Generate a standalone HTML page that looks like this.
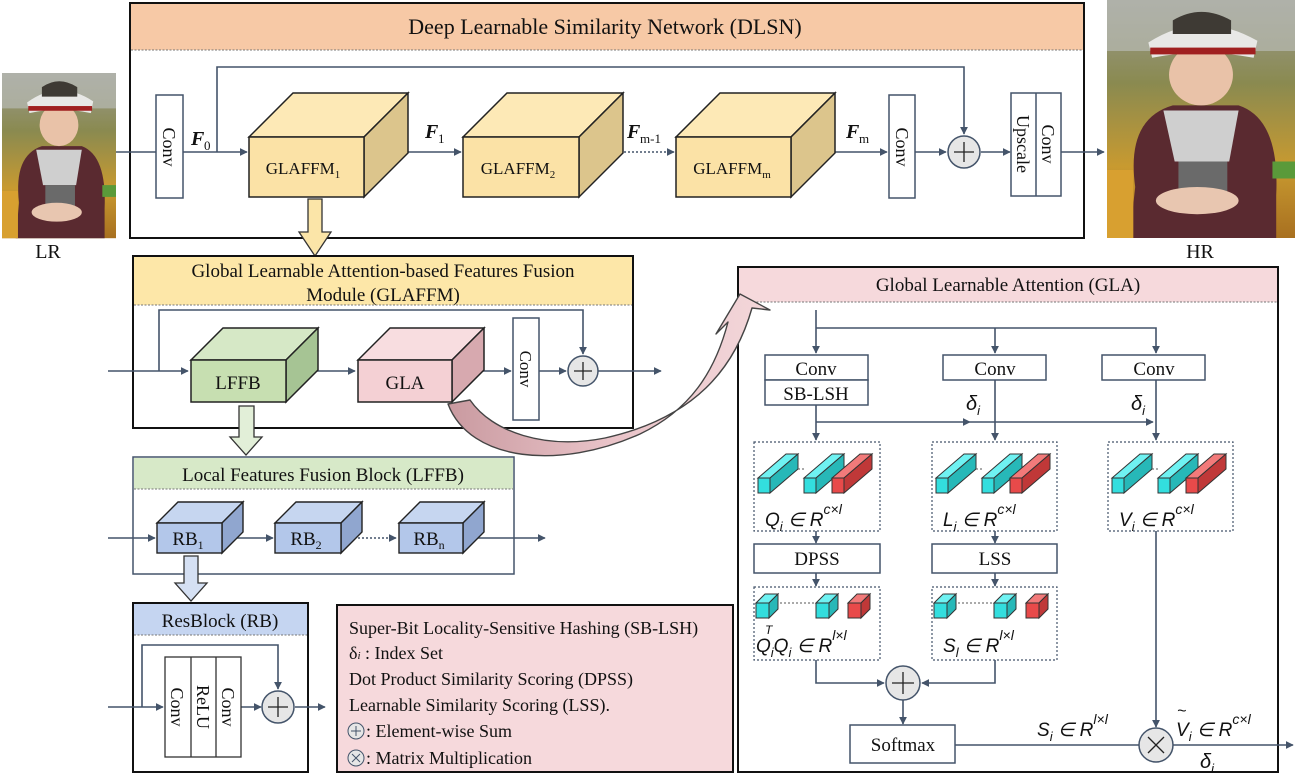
<!DOCTYPE html>
<html><head><meta charset="utf-8"><style>
html,body{margin:0;padding:0;background:#fff;}
svg{display:block;}
.t{font-family:"Liberation Serif",serif;fill:#111;}
.m{font-family:"Liberation Sans",sans-serif;font-style:italic;fill:#111;}
</style></head><body>
<svg width="1295" height="777" viewBox="0 0 1295 777" xmlns="http://www.w3.org/2000/svg">
<defs>
<marker id="a" viewBox="0 0 10 10" refX="9" refY="5" markerWidth="8" markerHeight="8" orient="auto" markerUnits="userSpaceOnUse"><path d="M0,0L10,5L0,10z" fill="#44546a"/></marker>
<linearGradient id="bg" x1="0" y1="0" x2="0" y2="1"><stop offset="0" stop-color="#9a9a92"/><stop offset="0.35" stop-color="#8a8a50"/><stop offset="0.7" stop-color="#c89a30"/><stop offset="1" stop-color="#a87020"/></linearGradient>
<linearGradient id="pk" x1="0" y1="0" x2="1" y2="0"><stop offset="0" stop-color="#c99aa0"/><stop offset="0.5" stop-color="#e9c3c8"/><stop offset="1" stop-color="#f3d7da"/></linearGradient>
<g id="pic">
<rect x="0" y="0" width="100" height="140" fill="url(#bg)"/>
<rect x="0" y="0" width="100" height="30" fill="#b8bab4" opacity="0.7"/>
<path d="M15,110 Q10,70 35,62 L70,62 Q92,70 90,115 L90,140 L12,140z" fill="#5a2a30"/>
<path d="M30,65 L70,65 L65,95 L36,95z" fill="#cfcfcf"/>
<rect x="38" y="95" width="26" height="22" fill="#6a6a6a"/>
<ellipse cx="50" cy="44" rx="17" ry="18" fill="#e9c2a8"/>
<path d="M22,25 Q50,5 80,24 L78,34 Q50,28 24,34z" fill="#e8e8e6"/>
<path d="M35,12 Q50,2 66,12 L66,20 L35,20z" fill="#3e3a34"/>
<rect x="23" y="28" width="56" height="4" fill="#a02020"/>
<ellipse cx="48" cy="118" rx="22" ry="8" fill="#e8c6b0"/>
<rect x="0" y="100" width="14" height="40" fill="#d8a030"/>
<rect x="88" y="95" width="12" height="10" fill="#5a9a3a"/>
</g>
<g id="cy"><rect x="0" y="0" width="12" height="15" fill="#33dede" stroke="#333" stroke-width="1"/><path d="M0,0L28,-24L40,-24L12,0z" fill="#6ff2f2" stroke="#333" stroke-width="1"/><path d="M12,0L40,-24L40,-9L12,15z" fill="#27b8b8" stroke="#333" stroke-width="1"/></g>
<g id="rd"><rect x="0" y="0" width="12" height="15" fill="#e84a4a" stroke="#333" stroke-width="1"/><path d="M0,0L28,-24L40,-24L12,0z" fill="#f27a7a" stroke="#333" stroke-width="1"/><path d="M12,0L40,-24L40,-9L12,15z" fill="#c03838" stroke="#333" stroke-width="1"/></g>
<g id="bars"><use href="#cy" x="0" y="0"/><line x1="40" y1="-9" x2="48" y2="-9" stroke="#555" stroke-dasharray="2,2"/><use href="#cy" x="46" y="0"/><use href="#rd" x="74" y="0"/></g>
<g id="scy"><rect x="0" y="0" width="13" height="15" fill="#33dede" stroke="#333"/><path d="M0,0L9,-9L22,-9L13,0z" fill="#6ff2f2" stroke="#333"/><path d="M13,0L22,-9L22,6L13,15z" fill="#27b8b8" stroke="#333"/></g>
<g id="srd"><rect x="0" y="0" width="13" height="15" fill="#e84a4a" stroke="#333"/><path d="M0,0L9,-9L22,-9L13,0z" fill="#f27a7a" stroke="#333"/><path d="M13,0L22,-9L22,6L13,15z" fill="#c03838" stroke="#333"/></g>
<g id="sbars"><use href="#scy" x="0" y="0"/><line x1="24" y1="0" x2="58" y2="0" stroke="#555" stroke-dasharray="2,2"/><use href="#scy" x="60" y="0"/><use href="#srd" x="92" y="0"/></g>
</defs>

<use href="#pic" transform="translate(2,73) scale(1.14,1.18)"/>
<use href="#pic" transform="translate(1107,0) scale(1.88,1.7)"/>
<text class="t" x="48" y="258" font-size="20" text-anchor="middle">LR</text>
<text class="t" x="1200" y="258" font-size="20" text-anchor="middle">HR</text>

<rect x="130" y="3" width="954" height="235" fill="#fff" stroke="#111" stroke-width="2"/>
<rect x="131" y="4" width="952" height="46" fill="#f7c9a6"/>
<line x1="131" y1="50" x2="1083" y2="50" stroke="#777" stroke-dasharray="2,1.5"/>
<text class="t" x="605" y="34" font-size="22" text-anchor="middle">Deep Learnable Similarity Network (DLSN)</text>
<g stroke="#44546a" stroke-width="1.6" fill="none">
<line x1="116" y1="152" x2="156" y2="152"/>
<line x1="183" y1="152" x2="247" y2="152" marker-end="url(#a)"/>
<polyline points="217,152 217,67 964,67 964,134" marker-end="url(#a)"/>
<line x1="364" y1="152" x2="461" y2="152" marker-end="url(#a)"/>
<line x1="579" y1="152" x2="620" y2="152"/>
<line x1="620" y1="152" x2="674" y2="152" stroke-dasharray="2,2" marker-end="url(#a)"/>
<line x1="791" y1="152" x2="887" y2="152" marker-end="url(#a)"/>
<line x1="914" y1="152" x2="946" y2="152" marker-end="url(#a)"/>
<line x1="981" y1="152" x2="1010" y2="152" marker-end="url(#a)"/>
<line x1="1061" y1="152" x2="1104" y2="152" marker-end="url(#a)"/>
</g>
<rect x="156" y="95" width="27" height="103" fill="#fff" stroke="#44546a" stroke-width="1.5"/>
<text class="t" transform="translate(163,147) rotate(90)" font-size="18" text-anchor="middle">Conv</text>
<text class="t" x="191" y="145" font-size="20" font-weight="bold" font-style="italic">F</text><text class="t" x="204" y="150" font-size="13">0</text>
<text class="t" x="425" y="138" font-size="20" font-weight="bold" font-style="italic">F</text><text class="t" x="438" y="143" font-size="13">1</text>
<text class="t" x="627" y="138" font-size="20" font-weight="bold" font-style="italic">F</text><text class="t" x="640" y="143" font-size="13">m-1</text>
<text class="t" x="846" y="138" font-size="20" font-weight="bold" font-style="italic">F</text><text class="t" x="859" y="143" font-size="13">m</text>
<g stroke="#222" stroke-width="1.5">
<path d="M249,137L293,93L408,93L364,137z" fill="#fde9b6"/><path d="M364,137L408,93L408,153L364,197z" fill="#dcc58c"/><rect x="249" y="137" width="115" height="60" fill="#fbe2a6"/>
<path d="M463,137L507,93L623,93L579,137z" fill="#fde9b6"/><path d="M579,137L623,93L623,153L579,197z" fill="#dcc58c"/><rect x="463" y="137" width="116" height="60" fill="#fbe2a6"/>
<path d="M676,137L720,93L835,93L791,137z" fill="#fde9b6"/><path d="M791,137L835,93L835,153L791,197z" fill="#dcc58c"/><rect x="676" y="137" width="115" height="60" fill="#fbe2a6"/>
</g>
<text class="t" x="303" y="174" font-size="17" text-anchor="middle">GLAFFM<tspan font-size="11" dy="4">1</tspan></text>
<text class="t" x="518" y="174" font-size="17" text-anchor="middle">GLAFFM<tspan font-size="11" dy="4">2</tspan></text>
<text class="t" x="732" y="174" font-size="17" text-anchor="middle">GLAFFM<tspan font-size="11" dy="4">m</tspan></text>
<rect x="889" y="95" width="26" height="103" fill="#fff" stroke="#44546a" stroke-width="1.5"/>
<text class="t" transform="translate(896,147) rotate(90)" font-size="18" text-anchor="middle">Conv</text>
<circle cx="964" cy="152" r="16" fill="#e6e6e6" stroke="#44546a" stroke-width="1.5"/>
<path d="M954,152H974M964,142V162" stroke="#222" stroke-width="1.3"/>
<rect x="1011" y="93" width="50" height="103" fill="#fff" stroke="#44546a" stroke-width="1.5"/>
<line x1="1036" y1="93" x2="1036" y2="196" stroke="#44546a" stroke-width="1.5"/>
<text class="t" transform="translate(1017,144) rotate(90)" font-size="18" text-anchor="middle">Upscale</text>
<text class="t" transform="translate(1042,144) rotate(90)" font-size="18" text-anchor="middle">Conv</text>

<path d="M308,199H322V232H331L315,256L299,232H308z" fill="#fbe5a8" stroke="#333" stroke-width="1.3"/>

<rect x="133" y="256" width="500" height="172" fill="#fff" stroke="#111" stroke-width="2"/>
<rect x="134" y="257" width="498" height="48" fill="#fde7a8"/>
<line x1="134" y1="305" x2="632" y2="305" stroke="#777" stroke-dasharray="2,1.5"/>
<text class="t" x="383" y="277" font-size="19" text-anchor="middle">Global Learnable Attention-based Features Fusion</text>
<text class="t" x="383" y="301" font-size="19" text-anchor="middle">Module (GLAFFM)</text>
<g stroke="#44546a" stroke-width="1.6" fill="none">
<line x1="108" y1="371" x2="188" y2="371" marker-end="url(#a)"/>
<polyline points="159,371 159,310 583,310 583,354" marker-end="url(#a)"/>
<line x1="290" y1="371" x2="355" y2="371" marker-end="url(#a)"/>
<line x1="455" y1="371" x2="511" y2="371" marker-end="url(#a)"/>
<line x1="539" y1="371" x2="566" y2="371" marker-end="url(#a)"/>
<line x1="598" y1="371" x2="661" y2="371" marker-end="url(#a)"/>
</g>
<g stroke="#222" stroke-width="1.5">
<path d="M191,360L223,328L318,328L286,360z" fill="#d6e8c6"/><path d="M286,360L318,328L318,370L286,402z" fill="#a6c494"/><rect x="191" y="360" width="95" height="42" fill="#c7dfb1"/>
<path d="M358,360L390,328L484,328L452,360z" fill="#f8dde0"/><path d="M452,360L484,328L484,370L452,402z" fill="#d7a9af"/><rect x="358" y="360" width="94" height="42" fill="#f4d0d4"/>
</g>
<text class="t" x="238" y="389" font-size="19" text-anchor="middle">LFFB</text>
<text class="t" x="405" y="389" font-size="19" text-anchor="middle">GLA</text>
<rect x="513" y="318" width="26" height="102" fill="#fff" stroke="#44546a" stroke-width="1.5"/>
<text class="t" transform="translate(520,369) rotate(90)" font-size="17" text-anchor="middle">Conv</text>
<circle cx="583" cy="371" r="15" fill="#e6e6e6" stroke="#44546a" stroke-width="1.5"/>
<path d="M574,371H592M583,362V380" stroke="#222" stroke-width="1.3"/>

<path d="M239,406H254V437H262L246,455L230,437H239z" fill="#e2efd8" stroke="#333" stroke-width="1.3"/>

<rect x="133" y="457" width="381" height="117" fill="#fff" stroke="#44546a" stroke-width="1.5"/>
<rect x="134" y="458" width="379" height="31" fill="#d7e9c8"/>
<line x1="134" y1="489" x2="513" y2="489" stroke="#777" stroke-dasharray="2,1.5"/>
<text class="t" x="323" y="481" font-size="19" text-anchor="middle">Local Features Fusion Block (LFFB)</text>
<g stroke="#44546a" stroke-width="1.6" fill="none">
<line x1="108" y1="538" x2="155" y2="538" marker-end="url(#a)"/>
<line x1="232" y1="538" x2="273" y2="538" marker-end="url(#a)"/>
<line x1="350" y1="538" x2="396" y2="538" stroke-dasharray="2,2" marker-end="url(#a)"/>
<line x1="470" y1="538" x2="545" y2="538" marker-end="url(#a)"/>
</g>
<g stroke="#222" stroke-width="1.4">
<path d="M157,523L178,502L243,502L222,523z" fill="#c6d6f0"/><path d="M222,523L243,502L243,532L222,553z" fill="#90a6cf"/><rect x="157" y="523" width="65" height="30" fill="#b3c7ea"/>
<path d="M275,523L296,502L362,502L341,523z" fill="#c6d6f0"/><path d="M341,523L362,502L362,532L341,553z" fill="#90a6cf"/><rect x="275" y="523" width="66" height="30" fill="#b3c7ea"/>
<path d="M399,523L420,502L484,502L463,523z" fill="#c6d6f0"/><path d="M463,523L484,502L484,532L463,553z" fill="#90a6cf"/><rect x="399" y="523" width="64" height="30" fill="#b3c7ea"/>
</g>
<text class="t" x="188" y="545" font-size="19" text-anchor="middle">RB<tspan font-size="12" dy="4">1</tspan></text>
<text class="t" x="306" y="545" font-size="19" text-anchor="middle">RB<tspan font-size="12" dy="4">2</tspan></text>
<text class="t" x="429" y="545" font-size="19" text-anchor="middle">RB<tspan font-size="12" dy="4">n</tspan></text>

<path d="M184,556H198V583H207L191,601L175,583H184z" fill="#d5e0f3" stroke="#333" stroke-width="1.3"/>

<rect x="133" y="603" width="175" height="169" fill="#fff" stroke="#111" stroke-width="2"/>
<rect x="134" y="604" width="173" height="31" fill="#c5d5f1"/>
<line x1="134" y1="635" x2="307" y2="635" stroke="#777" stroke-dasharray="2,1.5"/>
<text class="t" x="220" y="627" font-size="19" text-anchor="middle">ResBlock (RB)</text>
<g stroke="#44546a" stroke-width="1.6" fill="none">
<line x1="108" y1="707" x2="163" y2="707" marker-end="url(#a)"/>
<polyline points="142,707 142,645 278,645 278,689" marker-end="url(#a)"/>
<line x1="241" y1="707" x2="261" y2="707" marker-end="url(#a)"/>
<line x1="295" y1="707" x2="325" y2="707" marker-end="url(#a)"/>
</g>
<rect x="165" y="657" width="76" height="100" fill="#fff" stroke="#333" stroke-width="1.3"/>
<line x1="191" y1="657" x2="191" y2="757" stroke="#333" stroke-width="1.3"/>
<line x1="216" y1="657" x2="216" y2="757" stroke="#333" stroke-width="1.3"/>
<text class="t" transform="translate(171,707) rotate(90)" font-size="18" text-anchor="middle">Conv</text>
<text class="t" transform="translate(197,707) rotate(90)" font-size="18" text-anchor="middle">ReLU</text>
<text class="t" transform="translate(222,707) rotate(90)" font-size="18" text-anchor="middle">Conv</text>
<circle cx="278" cy="707" r="16" fill="#e6e6e6" stroke="#44546a" stroke-width="1.5"/>
<path d="M268,707H288M278,697V717" stroke="#222" stroke-width="1.3"/>

<rect x="337" y="605" width="396" height="167" fill="#f6d9dc" stroke="#111" stroke-width="2"/>
<g class="t" font-size="18">
<text x="349" y="634">Super-Bit Locality-Sensitive Hashing (SB-LSH)</text>
<text x="349" y="659">δ<tspan font-size="11" font-style="italic">i</tspan> : Index Set</text>
<text x="349" y="685">Dot Product Similarity Scoring (DPSS)</text>
<text x="349" y="711">Learnable Similarity Scoring  (LSS).</text>
<text x="366" y="737">: Element-wise Sum</text>
<text x="366" y="764">: Matrix Multiplication</text>
</g>
<circle cx="356" cy="731" r="8" fill="#e6e6e6" stroke="#44546a"/><path d="M351,731H361M356,726V736" stroke="#44546a"/>
<circle cx="356" cy="758" r="8" fill="#e6e6e6" stroke="#44546a"/><path d="M352,754L360,762M360,754L352,762" stroke="#44546a"/>

<rect x="738" y="267" width="540" height="505" fill="#fff" stroke="#111" stroke-width="2"/>
<rect x="739" y="268" width="538" height="34" fill="#f6d9dc"/>
<line x1="739" y1="302" x2="1277" y2="302" stroke="#777" stroke-dasharray="2,1.5"/>
<text class="t" x="1008" y="291" font-size="19" text-anchor="middle">Global Learnable Attention (GLA)</text>
<g stroke="#44546a" stroke-width="1.6" fill="none">
<line x1="816" y1="310" x2="816" y2="353" marker-end="url(#a)"/>
<polyline points="816,328 1156,328 1156,353" marker-end="url(#a)"/>
<line x1="995" y1="328" x2="995" y2="353" marker-end="url(#a)"/>
<line x1="816" y1="405" x2="816" y2="440" marker-end="url(#a)"/>
<line x1="816" y1="422" x2="970" y2="422" marker-end="url(#a)"/>
<line x1="970" y1="422" x2="1153" y2="422" marker-end="url(#a)"/>
<line x1="995" y1="380" x2="995" y2="440" marker-end="url(#a)"/>
<line x1="1156" y1="380" x2="1156" y2="440" marker-end="url(#a)"/>
<line x1="816" y1="531" x2="816" y2="543" marker-end="url(#a)"/>
<line x1="995" y1="531" x2="995" y2="543" marker-end="url(#a)"/>
<line x1="816" y1="573" x2="816" y2="586" marker-end="url(#a)"/>
<line x1="995" y1="573" x2="995" y2="586" marker-end="url(#a)"/>
<polyline points="816,660 816,683 884,683" marker-end="url(#a)"/>
<polyline points="995,660 995,683 922,683" marker-end="url(#a)"/>
<line x1="903" y1="700" x2="903" y2="724" marker-end="url(#a)"/>
<line x1="955" y1="745" x2="1139" y2="745"/>
<line x1="1156" y1="531" x2="1156" y2="727" marker-end="url(#a)"/>
<line x1="1173" y1="745" x2="1293" y2="745" marker-end="url(#a)"/>
</g>
<g stroke="#44546a" stroke-width="1.5" fill="#fff">
<rect x="765" y="355" width="103" height="25"/><rect x="765" y="380" width="103" height="25"/>
<rect x="943" y="355" width="103" height="25"/>
<rect x="1102" y="355" width="103" height="25"/>
<rect x="754" y="544" width="126" height="29"/>
<rect x="932" y="544" width="125" height="29"/>
<rect x="850" y="725" width="105" height="38"/>
</g>
<g class="t" font-size="19" text-anchor="middle">
<text x="816" y="375">Conv</text><text x="816" y="400">SB-LSH</text>
<text x="995" y="375">Conv</text><text x="1154" y="375">Conv</text>
<text x="817" y="565">DPSS</text><text x="995" y="565">LSS</text>
<text x="903" y="751">Softmax</text>
</g>
<text class="m" x="966" y="410" font-size="20">δ<tspan font-size="13" dy="5">i</tspan></text>
<text class="m" x="1131" y="410" font-size="20">δ<tspan font-size="13" dy="5">i</tspan></text>
<g fill="none" stroke="#44546a" stroke-dasharray="2,2" stroke-width="1.2">
<rect x="754" y="442" width="126" height="89"/><rect x="932" y="442" width="125" height="89"/><rect x="1108" y="442" width="125" height="89"/>
<rect x="754" y="587" width="126" height="73"/><rect x="932" y="587" width="125" height="73"/>
</g>
<use href="#bars" x="758" y="478"/><use href="#bars" x="936" y="478"/><use href="#bars" x="1112" y="478"/>
<use href="#sbars" x="756" y="603"/><use href="#sbars" x="934" y="603"/>
<g class="m" font-size="19">
<text x="765" y="526">Q<tspan font-size="13" dy="5">i</tspan><tspan dy="-5"> ∈ R</tspan><tspan font-size="14" dy="-12">c×l</tspan></text>
<text x="943" y="526">L<tspan font-size="13" dy="5">i</tspan><tspan dy="-5"> ∈ R</tspan><tspan font-size="14" dy="-12">c×l</tspan></text>
<text x="1119" y="526">V<tspan font-size="13" dy="5">i</tspan><tspan dy="-5"> ∈ R</tspan><tspan font-size="14" dy="-12">c×l</tspan></text>
<text x="756" y="652">Q<tspan font-size="13" dy="5">i</tspan><tspan dy="-5">Q</tspan><tspan font-size="13" dy="5">i</tspan><tspan dy="-5"> ∈ R</tspan><tspan font-size="14" dy="-12">l×l</tspan></text>
<text x="765" y="634" font-size="12">T</text>
<text x="943" y="652">S<tspan font-size="13" dy="5">l</tspan><tspan dy="-5"> ∈ R</tspan><tspan font-size="14" dy="-12">l×l</tspan></text>
<text x="1037" y="736">S<tspan font-size="13" dy="5">i</tspan><tspan dy="-5"> ∈ R</tspan><tspan font-size="14" dy="-12">l×l</tspan></text>
<text x="1176" y="736">V<tspan font-size="13" dy="5">i</tspan><tspan dy="-5"> ∈ R</tspan><tspan font-size="14" dy="-12">c×l</tspan></text>
<text x="1177" y="716" font-size="16">~</text>
<text x="1200" y="768" font-size="20">δ<tspan font-size="13" dy="5">i</tspan></text>
</g>
<circle cx="903" cy="683" r="17" fill="#e6e6e6" stroke="#44546a" stroke-width="1.5"/>
<path d="M892,683H914M903,672V694" stroke="#222" stroke-width="1.3"/>
<circle cx="1156" cy="745" r="17" fill="#e6e6e6" stroke="#44546a" stroke-width="1.5"/>
<path d="M1148,737L1164,753M1164,737L1148,753" stroke="#222" stroke-width="1.3"/>

<!-- big curved pink arrow (drawn on top) -->
<path d="M448,404 C470,462 560,470 640,434 C690,410 715,372 728,322 L716,334 L740,294 L770,310 L752,308 C735,368 695,418 605,438 C545,450 492,432 470,400 Z" fill="url(#pk)" stroke="#444" stroke-width="1.4" stroke-linejoin="round"/>
</svg>
</body></html>
